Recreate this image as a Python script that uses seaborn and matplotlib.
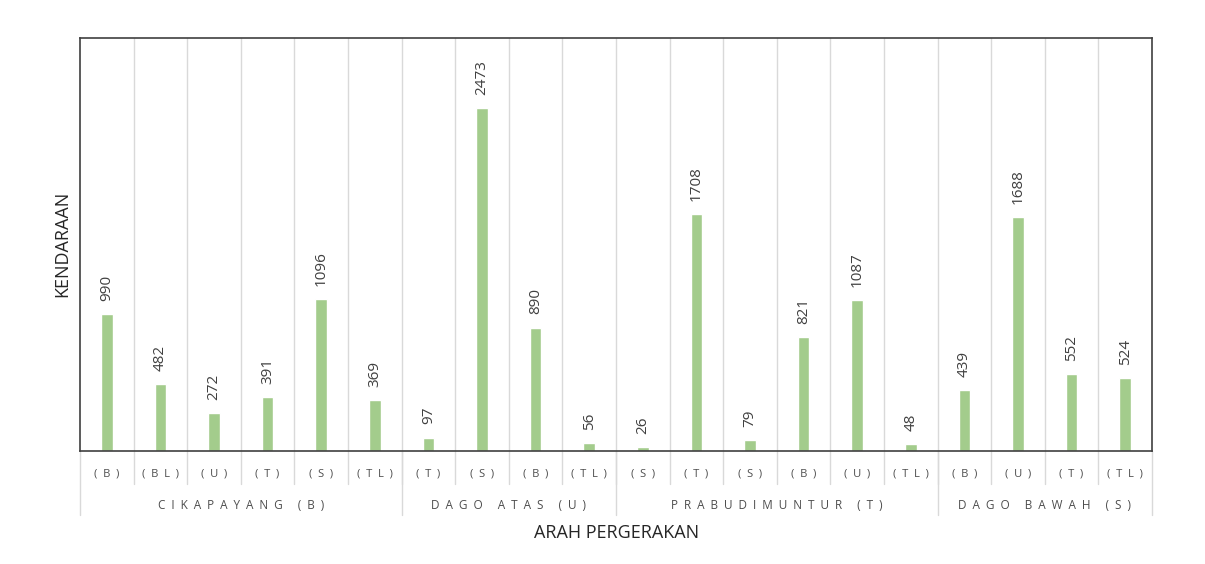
import pandas as pd
import matplotlib
matplotlib.use("Agg")
import matplotlib.pyplot as plt
import matplotlib.transforms as mtransforms
import seaborn as sns

# ===== data =====
groups = ["CIKAPAYANG (B)", "DAGO ATAS (U)", "PRABUDIMUNTUR (T)", "DAGO BAWAH (S)"]
directions = [
    ["(B)", "(BL)", "(U)", "(T)", "(S)", "(TL)"],
    ["(T)", "(S)", "(B)", "(TL)"],
    ["(S)", "(T)", "(S)", "(B)", "(U)", "(TL)"],
    ["(B)", "(U)", "(T)", "(TL)"],
]
counts = [990, 482, 272, 391, 1096, 369,
          97, 2473, 890, 56,
          26, 1708, 79, 821, 1087, 48,
          439, 1688, 552, 524]

rows = []
for g, dirs in zip(groups, directions):
    for d in dirs:
        rows.append({"group": g, "dir": d})
df = pd.DataFrame(rows)
df["kendaraan"] = counts
df["pos"] = range(len(df))

def spaced(s, sep="  "):
    # wide letter spacing like the original chart
    out = ""
    for ch in s:
        out += (" " if ch == " " else ch) + sep
    return out.rstrip()

sns.set_theme(style="white")
plt.rcParams["font.family"] = ["Open Sans", "DejaVu Sans"]

fig = plt.figure(figsize=(12.05, 5.64), dpi=100)
ax = fig.add_axes([80/1205, 1-451/564, (1152-80)/1205, (451-38)/564])

sns.barplot(data=df, x="pos", y="kendaraan", color="#a3cc8c", width=0.22,
            saturation=1, ax=ax)

n = len(df)
ax.set_xlim(-0.5, n - 0.5)
ax.set_ylim(0, 2980)
ax.set_yticks([])
ax.set_xticks([])
ax.set_xlabel("")
ax.set_ylabel("")
for sp in ax.spines.values():
    sp.set_color("#404040")
    sp.set_linewidth(1.2)

trans = mtransforms.blended_transform_factory(ax.transData, ax.transAxes)

# category separators
for i in range(n - 1):
    ax.plot([i + 0.5, i + 0.5], [-0.08, 1.0], transform=trans, color="#d9d9d9",
            lw=1, clip_on=False, zorder=0)

# group separators, extending further down
edges = [-0.5]
for dirs in directions:
    edges.append(edges[-1] + len(dirs))
for e in edges:
    ax.plot([e, e], [-0.155, 0.0], transform=trans, color="#d9d9d9",
            lw=1, clip_on=False, zorder=0)

# tick labels and group labels
for _, r in df.iterrows():
    ax.text(r["pos"], -0.056, spaced(r["dir"]), transform=trans, ha="center",
            va="center", fontsize=8, color="#4d4d4d")
for g, a, b in zip(groups, edges[:-1], edges[1:]):
    ax.text((a + b) / 2, -0.133, spaced(g), transform=trans, ha="center",
            va="center", fontsize=8.5, color="#4d4d4d")

# value labels
for _, r in df.iterrows():
    ax.text(r["pos"], r["kendaraan"] + 95, f"{r['kendaraan']}", rotation=90,
            ha="center", va="bottom", fontsize=11, color="#404040")

fig.text(617/1205, 1-533/564, "ARAH PERGERAKAN", ha="center", va="center",
         fontsize=13, color="#262626")
fig.text(62/1205, 1-244/564, "KENDARAAN", ha="center", va="center",
         rotation=90, fontsize=13, color="#262626")

fig.savefig("out.png", dpi=100, facecolor="white")
